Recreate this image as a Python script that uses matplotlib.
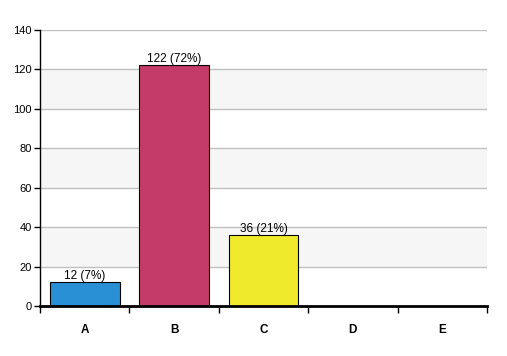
import matplotlib.pyplot as plt
import numpy as np

categories = ["A", "B", "C", "D", "E"]
counts = [12, 122, 36, 0, 0]
labels = ["12 (7%)", "122 (72%)", "36 (21%)", "", ""]
colors = ["#2a90d6", "#c43a68", "#efeb2c", "#888888", "#888888"]

plt.rcParams["font.family"] = ["Liberation Sans", "DejaVu Sans"]

fig = plt.figure(figsize=(5.07, 3.56), dpi=100)
ax = fig.add_axes([40 / 507, 50 / 356, 447 / 507, 276 / 356])

# alternating background bands
for lo in range(20, 140, 40):
    ax.axhspan(lo, lo + 20, color="#f6f6f6", zorder=0, lw=0)
for y in range(20, 141, 20):
    ax.axhline(y, color="#c0c0c0", lw=1, zorder=1)

x = np.arange(len(categories))
bars = ax.bar(x, counts, width=0.78, color=colors, edgecolor="black", lw=0.8, zorder=2)
for xi, c, lab in zip(x, counts, labels):
    if lab:
        ax.text(xi, c, lab, ha="center", va="bottom", fontsize=8.5, zorder=3)

ax.set_xlim(-0.5, 4.5)
ax.set_ylim(0, 140)
ax.set_yticks(range(0, 141, 20))
ax.set_xticks(np.arange(-0.5, 5, 1))
ax.set_xticklabels([])
ax.set_xticks(x, minor=True)
ax.set_xticklabels(categories, minor=True, fontweight="bold", fontsize=8.5)
ax.tick_params(axis="x", which="minor", length=0, pad=13)
ax.tick_params(axis="x", which="major", length=5, width=1, direction="out")
ax.tick_params(axis="y", length=4, width=1, labelsize=8, pad=2)

for s in ["top", "right"]:
    ax.spines[s].set_visible(False)
ax.spines["bottom"].set_linewidth(2)
ax.spines["left"].set_linewidth(1)

fig.savefig("out.png", dpi=100)
